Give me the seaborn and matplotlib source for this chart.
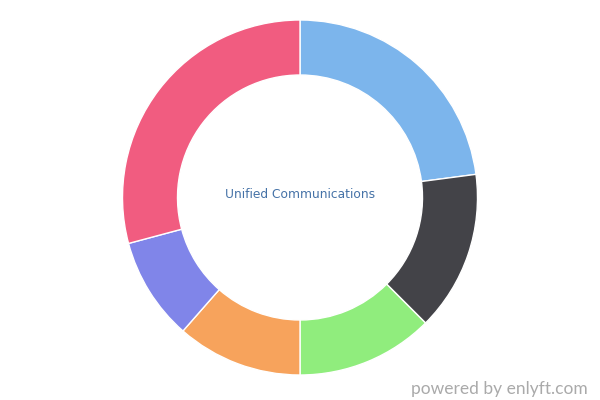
import matplotlib
matplotlib.use("Agg")
import matplotlib.pyplot as plt
import seaborn as sns

labels = ["Blue", "Dark", "Green", "Orange", "Purple", "Pink"]
values = [22, 14, 12, 11, 9, 28]
colors = ["#7cb5ec", "#434348", "#90ed7d", "#f7a35c", "#8085e9", "#f15c80"]
center_title = "Unified Communications"
watermark = "powered by enlyft.com"

sns.set_theme(style="white")
plt.rcParams['font.family'] = ['DejaVu Sans']

fig = plt.figure(figsize=(6, 4), dpi=100)
ax = fig.add_axes([0, 0, 1, 1])

palette = sns.color_palette(colors)
ax.pie(values, colors=palette, startangle=90, counterclock=False,
       radius=177.5, center=(0, 0), frame=True,
       wedgeprops=dict(width=55, edgecolor="white", linewidth=1))
ax.set_xlim(-300, 300)
ax.set_ylim(-202.5, 197.5)
ax.set_aspect("equal")
ax.axis("off")

ax.text(0, 2.5, center_title, ha="center", va="center", fontsize=8.8, color="#4572a7")
fig.text(588 / 600, 1 - 389 / 400, watermark, ha="right", va="center",
         fontsize=12.5, color="#aaaaaa", family="Lato")

fig.savefig("out.png", dpi=100, facecolor="white")
